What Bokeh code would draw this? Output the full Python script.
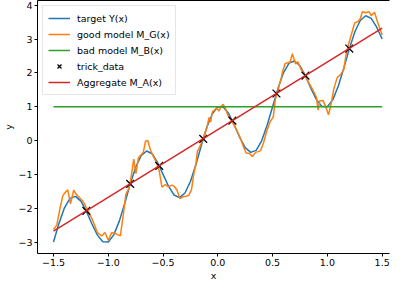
from bokeh.plotting import figure
from bokeh.models import Range1d, FixedTicker, LinearAxis, Legend, LegendItem
from bokeh.embed import file_html
from bokeh.resources import INLINE

# ---- data ----
target_x = [-1.50, -1.45, -1.40, -1.35, -1.30, -1.25, -1.20, -1.15, -1.10, -1.05,
            -1.00, -0.95, -0.90, -0.85, -0.80, -0.75, -0.70, -0.65, -0.60, -0.55,
            -0.50, -0.45, -0.40, -0.35, -0.30, -0.25, -0.20, -0.15, -0.10, -0.05,
            0.00, 0.05, 0.10, 0.15, 0.20, 0.25, 0.30, 0.35, 0.40, 0.45,
            0.50, 0.55, 0.60, 0.65, 0.70, 0.75, 0.80, 0.85, 0.90, 0.95,
            1.00, 1.05, 1.10, 1.15, 1.20, 1.25, 1.30, 1.35, 1.40, 1.45, 1.50]
target_y = [-3.00, -2.45, -1.99, -1.71, -1.65, -1.79, -2.09, -2.46, -2.79, -2.99,
            -3.00, -2.79, -2.39, -1.86, -1.29, -0.79, -0.45, -0.31, -0.39, -0.65,
            -1.00, -1.35, -1.61, -1.69, -1.55, -1.21, -0.71, -0.14, 0.39, 0.79,
            1.00, 0.99, 0.79, 0.46, 0.09, -0.21, -0.35, -0.29, -0.01, 0.45,
            1.00, 1.55, 2.01, 2.29, 2.35, 2.21, 1.91, 1.54, 1.21, 1.01,
            1.00, 1.21, 1.61, 2.14, 2.71, 3.21, 3.55, 3.69, 3.61, 3.35, 3.00]

good_x = [-1.50, -1.47, -1.44, -1.415, -1.39, -1.37, -1.345, -1.315, -1.29, -1.26,
          -1.235, -1.21, -1.175, -1.145, -1.12, -1.10, -1.06, -1.03, -1.00, -0.97,
          -0.94, -0.91, -0.89, -0.865, -0.84, -0.81, -0.79, -0.768, -0.748, -0.725,
          -0.70, -0.68, -0.66, -0.64, -0.615, -0.59, -0.56, -0.535, -0.51, -0.48,
          -0.45, -0.42, -0.40, -0.375, -0.345, -0.316, -0.29, -0.265, -0.24, -0.22,
          -0.20, -0.187, -0.167, -0.14, -0.12, -0.10, -0.08, -0.065, -0.05, -0.03,
          -0.01, 0.01, 0.03, 0.047, 0.07, 0.09, 0.12, 0.14, 0.164, 0.20,
          0.23, 0.258, 0.287, 0.316, 0.345, 0.375, 0.39, 0.418, 0.447, 0.477,
          0.506, 0.526, 0.55, 0.575, 0.594, 0.615, 0.64, 0.66, 0.68, 0.71,
          0.73, 0.76, 0.78, 0.81, 0.84, 0.87, 0.90, 0.915, 0.93, 0.96,
          0.98, 1.01, 1.035, 1.06, 1.09, 1.12, 1.15, 1.17, 1.19, 1.22,
          1.25, 1.28, 1.30, 1.32, 1.35, 1.38, 1.40, 1.43, 1.46, 1.50]
good_y = [-2.63, -2.50, -2.00, -1.63, -1.52, -1.46, -1.87, -1.47, -1.60, -1.70,
          -1.78, -1.92, -2.15, -2.34, -2.55, -2.72, -2.82, -2.72, -2.95, -2.73,
          -2.74, -2.79, -2.82, -2.25, -1.60, -1.40, -1.05, -0.55, -0.98, -0.51,
          -0.42, -0.35, -0.02, 0.00, -0.28, -0.46, -0.65, -0.90, -1.38, -1.30,
          -1.37, -1.32, -1.35, -1.45, -1.72, -1.66, -1.65, -1.62, -1.45, -1.00,
          -0.70, -0.32, -0.20, 0.00, 0.20, 0.38, 0.68, 0.55, 0.85, 0.90,
          0.97, 0.87, 1.00, 1.07, 0.95, 0.76, 0.60, 0.50, 0.36, 0.12,
          -0.15, -0.37, -0.38, -0.47, -0.35, -0.32, -0.30, -0.06, 0.29, 0.55,
          0.70, 1.23, 1.50, 1.80, 2.07, 2.28, 2.30, 2.32, 2.57, 2.26,
          2.33, 2.10, 2.02, 1.84, 1.65, 1.48, 1.28, 0.90, 1.17, 1.18,
          1.04, 0.76, 1.10, 1.55, 1.86, 1.95, 2.10, 2.54, 2.80, 3.15,
          3.48, 3.52, 3.60, 3.81, 3.78, 3.81, 3.69, 3.79, 3.48, 3.12]

bad_x = [-1.5, 1.5]
bad_y = [1.0, 1.0]

trick_x = [-1.20, -0.80, -0.535, -0.133, 0.133, 0.535, 0.80, 1.20]
trick_y = [-2.08, -1.28, -0.75, 0.05, 0.59, 1.39, 1.92, 2.72]

agg_x = [-1.5, 1.5]
agg_y = [-2.68, 3.32]

x_ticks = [-1.5, -1.0, -0.5, 0.0, 0.5, 1.0, 1.5]
x_tick_labels = ["\u22121.5", "\u22121.0", "\u22120.5", "0.0", "0.5", "1.0", "1.5"]
y_ticks = [-3, -2, -1, 0, 1, 2, 3, 4]
y_tick_labels = ["\u22123", "\u22122", "\u22121", "0", "1", "2", "3", "4"]

legend_labels = ["target Y(x)", "good model M_G(x)", "bad model M_B(x)",
                 "trick_data", "Aggregate M_A(x)"]

FONT = "DejaVu Sans"
FS = "9.5px"

p = figure(width=393, height=283, output_backend="svg", toolbar_location=None,
           x_range=Range1d(-1.646, 1.567), y_range=Range1d(-3.34, 4.14),
           min_border_left=34, min_border_right=4, min_border_top=0,
           min_border_bottom=0)
p.outline_line_color = None
p.xgrid.visible = False
p.ygrid.visible = False
p.background_fill_color = "white"
p.border_fill_color = "white"

r_t = p.line(target_x, target_y, line_color="#1f77b4", line_width=1.5)
r_g = p.line(good_x, good_y, line_color="#ff7f0e", line_width=1.5)
r_b = p.line(bad_x, bad_y, line_color="#2ca02c", line_width=1.5)
r_k = p.scatter(trick_x, trick_y, marker="x", size=11, line_color="black",
                line_width=1.3)
r_a = p.line(agg_x, agg_y, line_color="#d62728", line_width=1.5)

for ax, ticks, labels, name in ((p.xaxis, x_ticks, x_tick_labels, "x"),
                                (p.yaxis, y_ticks, y_tick_labels, "y")):
    ax.ticker = FixedTicker(ticks=ticks)
    ax.major_label_overrides = {t: l for t, l in zip(ticks, labels)}
    ax.minor_tick_line_color = None
    ax.major_tick_in = 0
    ax.major_tick_out = 3
    ax.major_label_standoff = 2
    ax.major_label_text_font = FONT
    ax.major_label_text_font_size = FS
    ax.major_label_text_color = "black"
    ax.axis_label = name
    ax.axis_label_text_font = FONT
    ax.axis_label_text_font_size = FS
    ax.axis_label_text_font_style = "normal"
    ax.axis_label_text_color = "black"
    ax.axis_label_standoff = 1
    ax.axis_line_color = "black"
    ax.major_tick_line_color = "black"

top = LinearAxis(ticker=FixedTicker(ticks=[]), major_tick_out=0, major_tick_in=0,
                 minor_tick_out=0, minor_tick_in=0,
                 major_label_text_font_size="0px", axis_line_color="black")
p.add_layout(top, "above")

renderers = [r_t, r_g, r_b, r_k, r_a]
legend = Legend(items=[LegendItem(label=l, renderers=[r])
                       for l, r in zip(legend_labels, renderers)],
                location="top_left")
legend.margin = 5
legend.padding = 5
legend.spacing = 2
legend.glyph_width = 22
legend.glyph_height = 14
legend.label_height = 14
legend.label_standoff = 7
legend.label_text_font = FONT
legend.label_text_font_size = FS
legend.label_text_color = "black"
legend.border_line_color = "#cccccc"
legend.border_line_width = 1
legend.background_fill_alpha = 0.8
p.add_layout(legend)

open("out.html", "w").write(file_html(p, INLINE))
